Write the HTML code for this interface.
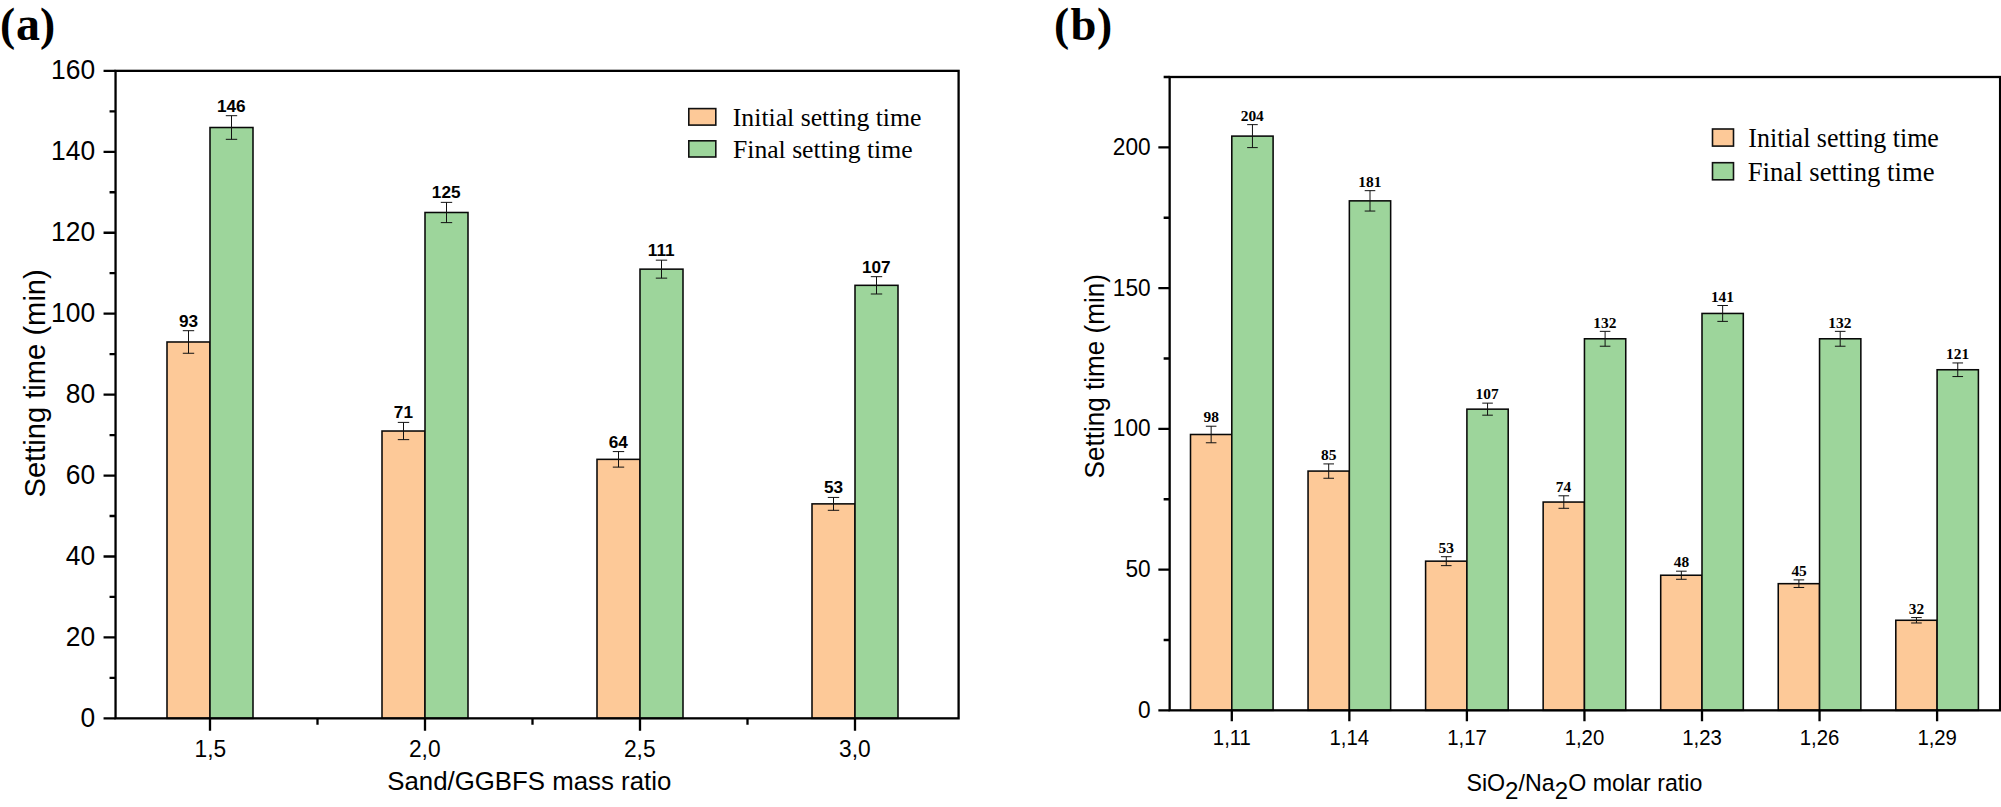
<!DOCTYPE html>
<html><head><meta charset="utf-8"><title>Setting time charts</title>
<style>html,body{margin:0;padding:0;background:#fff}svg{display:block}text{fill:#000}</style></head>
<body><svg width="2001" height="807" viewBox="0 0 2001 807">
<rect width="2001" height="807" fill="#fff"/>
<rect x="167.00" y="341.99" width="43.00" height="376.36" fill="#fdc998" stroke="#080808" stroke-width="1.55"/>
<rect x="210.00" y="127.51" width="43.00" height="590.84" fill="#9dd59b" stroke="#080808" stroke-width="1.55"/>
<rect x="382.00" y="431.02" width="43.00" height="287.33" fill="#fdc998" stroke="#080808" stroke-width="1.55"/>
<rect x="425.00" y="212.49" width="43.00" height="505.86" fill="#9dd59b" stroke="#080808" stroke-width="1.55"/>
<rect x="597.00" y="459.35" width="43.00" height="259.00" fill="#fdc998" stroke="#080808" stroke-width="1.55"/>
<rect x="640.00" y="269.15" width="43.00" height="449.20" fill="#9dd59b" stroke="#080808" stroke-width="1.55"/>
<rect x="812.00" y="503.87" width="43.00" height="214.48" fill="#fdc998" stroke="#080808" stroke-width="1.55"/>
<rect x="855.00" y="285.33" width="43.00" height="433.02" fill="#9dd59b" stroke="#080808" stroke-width="1.55"/>
<path d="M188.50 330.70V353.28M182.80 330.70H194.20M182.80 353.28H194.20" stroke="#111" stroke-width="1" fill="none"/>
<path d="M231.50 115.69V139.32M225.80 115.69H237.20M225.80 139.32H237.20" stroke="#111" stroke-width="1" fill="none"/>
<path d="M403.50 422.40V439.64M397.80 422.40H409.20M397.80 439.64H409.20" stroke="#111" stroke-width="1" fill="none"/>
<path d="M446.50 202.37V222.61M440.80 202.37H452.20M440.80 222.61H452.20" stroke="#111" stroke-width="1" fill="none"/>
<path d="M618.50 451.58V467.12M612.80 451.58H624.20M612.80 467.12H624.20" stroke="#111" stroke-width="1" fill="none"/>
<path d="M661.50 260.16V278.13M655.80 260.16H667.20M655.80 278.13H667.20" stroke="#111" stroke-width="1" fill="none"/>
<path d="M833.50 497.43V510.30M827.80 497.43H839.20M827.80 510.30H839.20" stroke="#111" stroke-width="1" fill="none"/>
<path d="M876.50 276.67V293.99M870.80 276.67H882.20M870.80 293.99H882.20" stroke="#111" stroke-width="1" fill="none"/>
<rect x="115.55" y="70.85" width="843.05" height="647.50" fill="none" stroke="#000" stroke-width="2.30"/>
<path d="M115.55 718.35H103.55M115.55 637.41H103.55M115.55 556.48H103.55M115.55 475.54H103.55M115.55 394.60H103.55M115.55 313.66H103.55M115.55 232.73H103.55M115.55 151.79H103.55M115.55 70.85H103.55M115.55 677.88H109.55M115.55 596.94H109.55M115.55 516.01H109.55M115.55 435.07H109.55M115.55 354.13H109.55M115.55 273.19H109.55M115.55 192.26H109.55M115.55 111.32H109.55M210.00 718.35V730.65M425.00 718.35V730.65M640.00 718.35V730.65M855.00 718.35V730.65M317.50 718.35V724.85M532.50 718.35V724.85M747.50 718.35V724.85" stroke="#000" stroke-width="2.30" fill="none"/>
<text transform="translate(80.52,726.55) scale(0.9680,1)" font-family='"Liberation Sans", Arial, sans-serif' font-size="27.30">0</text>
<text transform="translate(65.86,645.61) scale(0.9680,1)" font-family='"Liberation Sans", Arial, sans-serif' font-size="27.30">20</text>
<text transform="translate(65.86,564.68) scale(0.9680,1)" font-family='"Liberation Sans", Arial, sans-serif' font-size="27.30">40</text>
<text transform="translate(65.86,483.74) scale(0.9680,1)" font-family='"Liberation Sans", Arial, sans-serif' font-size="27.30">60</text>
<text transform="translate(65.86,402.80) scale(0.9680,1)" font-family='"Liberation Sans", Arial, sans-serif' font-size="27.30">80</text>
<text transform="translate(51.12,321.86) scale(0.9680,1)" font-family='"Liberation Sans", Arial, sans-serif' font-size="27.30">100</text>
<text transform="translate(51.12,240.93) scale(0.9680,1)" font-family='"Liberation Sans", Arial, sans-serif' font-size="27.30">120</text>
<text transform="translate(51.12,159.99) scale(0.9680,1)" font-family='"Liberation Sans", Arial, sans-serif' font-size="27.30">140</text>
<text transform="translate(51.12,79.05) scale(0.9680,1)" font-family='"Liberation Sans", Arial, sans-serif' font-size="27.30">160</text>
<text transform="translate(194.48,757.05) scale(0.9900,1)" font-family='"Liberation Sans", Arial, sans-serif' font-size="23.00">1,5</text>
<text transform="translate(408.93,757.05) scale(0.9900,1)" font-family='"Liberation Sans", Arial, sans-serif' font-size="23.00">2,0</text>
<text transform="translate(623.96,757.05) scale(0.9900,1)" font-family='"Liberation Sans", Arial, sans-serif' font-size="23.00">2,5</text>
<text transform="translate(839.07,757.05) scale(0.9900,1)" font-family='"Liberation Sans", Arial, sans-serif' font-size="23.00">3,0</text>
<text transform="translate(178.95,326.70) scale(1.0000,1)" font-family='"Liberation Sans", Arial, sans-serif' font-size="17.20" font-weight="bold">93</text>
<text transform="translate(216.92,111.69) scale(1.0000,1)" font-family='"Liberation Sans", Arial, sans-serif' font-size="17.20" font-weight="bold">146</text>
<text transform="translate(393.82,418.40) scale(1.0000,1)" font-family='"Liberation Sans", Arial, sans-serif' font-size="17.20" font-weight="bold">71</text>
<text transform="translate(431.86,198.37) scale(1.0000,1)" font-family='"Liberation Sans", Arial, sans-serif' font-size="17.20" font-weight="bold">125</text>
<text transform="translate(608.67,447.58) scale(1.0000,1)" font-family='"Liberation Sans", Arial, sans-serif' font-size="17.20" font-weight="bold">64</text>
<text transform="translate(647.80,256.16) scale(1.0000,1)" font-family='"Liberation Sans", Arial, sans-serif' font-size="17.20" font-weight="bold">111</text>
<text transform="translate(824.00,493.43) scale(1.0000,1)" font-family='"Liberation Sans", Arial, sans-serif' font-size="17.20" font-weight="bold">53</text>
<text transform="translate(861.99,272.67) scale(1.0000,1)" font-family='"Liberation Sans", Arial, sans-serif' font-size="17.20" font-weight="bold">107</text>
<text transform="translate(387.24,790.30) scale(1.0126,1)" font-family='"Liberation Sans", Arial, sans-serif' font-size="25.50">Sand/GGBFS mass ratio</text>
<text transform="translate(45.05,497.51) rotate(-90) scale(0.9715,1)" font-family='"Liberation Sans", Arial, sans-serif' font-size="30.00">Setting time (min)</text>
<text y="39.70" font-family='"Liberation Serif", "Times New Roman", serif' font-weight="bold" font-size="48"><tspan x="0.10" font-size="45.6">(</tspan><tspan x="16.10" font-size="48.0">a</tspan><tspan x="39.90" font-size="45.6">)</tspan></text>
<rect x="688.8" y="108.6" width="27.0" height="16.5" fill="#fdc998" stroke="#111" stroke-width="1.6"/>
<rect x="688.8" y="140.8" width="27.0" height="16.2" fill="#9dd59b" stroke="#111" stroke-width="1.6"/>
<text transform="translate(732.80,125.50) scale(1.0299,1)" font-family='"Liberation Serif", "Times New Roman", serif' font-size="25.00">Initial setting time</text>
<text transform="translate(732.99,157.50) scale(1.0263,1)" font-family='"Liberation Serif", "Times New Roman", serif' font-size="25.00">Final setting time</text>
<rect x="1190.50" y="434.49" width="41.30" height="275.86" fill="#fdc998" stroke="#080808" stroke-width="1.55"/>
<rect x="1231.80" y="136.11" width="41.30" height="574.24" fill="#9dd59b" stroke="#080808" stroke-width="1.55"/>
<rect x="1308.05" y="471.08" width="41.30" height="239.27" fill="#fdc998" stroke="#080808" stroke-width="1.55"/>
<rect x="1349.35" y="200.86" width="41.30" height="509.49" fill="#9dd59b" stroke="#080808" stroke-width="1.55"/>
<rect x="1425.60" y="561.16" width="41.30" height="149.19" fill="#fdc998" stroke="#080808" stroke-width="1.55"/>
<rect x="1466.90" y="409.16" width="41.30" height="301.19" fill="#9dd59b" stroke="#080808" stroke-width="1.55"/>
<rect x="1543.15" y="502.05" width="41.30" height="208.30" fill="#fdc998" stroke="#080808" stroke-width="1.55"/>
<rect x="1584.45" y="338.78" width="41.30" height="371.57" fill="#9dd59b" stroke="#080808" stroke-width="1.55"/>
<rect x="1660.70" y="575.24" width="41.30" height="135.11" fill="#fdc998" stroke="#080808" stroke-width="1.55"/>
<rect x="1702.00" y="313.45" width="41.30" height="396.90" fill="#9dd59b" stroke="#080808" stroke-width="1.55"/>
<rect x="1778.25" y="583.68" width="41.30" height="126.67" fill="#fdc998" stroke="#080808" stroke-width="1.55"/>
<rect x="1819.55" y="338.78" width="41.30" height="371.57" fill="#9dd59b" stroke="#080808" stroke-width="1.55"/>
<rect x="1895.80" y="620.27" width="41.30" height="90.08" fill="#fdc998" stroke="#080808" stroke-width="1.55"/>
<rect x="1937.10" y="369.75" width="41.30" height="340.60" fill="#9dd59b" stroke="#080808" stroke-width="1.55"/>
<path d="M1211.15 426.22V442.77M1205.85 426.22H1216.45M1205.85 442.77H1216.45" stroke="#111" stroke-width="1" fill="none"/>
<path d="M1252.45 124.63V147.60M1247.15 124.63H1257.75M1247.15 147.60H1257.75" stroke="#111" stroke-width="1" fill="none"/>
<path d="M1328.70 463.91V478.26M1323.40 463.91H1334.00M1323.40 478.26H1334.00" stroke="#111" stroke-width="1" fill="none"/>
<path d="M1370.00 190.67V211.05M1364.70 190.67H1375.30M1364.70 211.05H1375.30" stroke="#111" stroke-width="1" fill="none"/>
<path d="M1446.25 556.69V565.64M1440.95 556.69H1451.55M1440.95 565.64H1451.55" stroke="#111" stroke-width="1" fill="none"/>
<path d="M1487.55 403.13V415.18M1482.25 403.13H1492.85M1482.25 415.18H1492.85" stroke="#111" stroke-width="1" fill="none"/>
<path d="M1563.80 495.80V508.30M1558.50 495.80H1569.10M1558.50 508.30H1569.10" stroke="#111" stroke-width="1" fill="none"/>
<path d="M1605.10 331.35V346.22M1599.80 331.35H1610.40M1599.80 346.22H1610.40" stroke="#111" stroke-width="1" fill="none"/>
<path d="M1681.35 571.18V579.29M1676.05 571.18H1686.65M1676.05 579.29H1686.65" stroke="#111" stroke-width="1" fill="none"/>
<path d="M1722.65 305.51V321.39M1717.35 305.51H1727.95M1717.35 321.39H1727.95" stroke="#111" stroke-width="1" fill="none"/>
<path d="M1798.90 579.88V587.48M1793.60 579.88H1804.20M1793.60 587.48H1804.20" stroke="#111" stroke-width="1" fill="none"/>
<path d="M1840.20 331.35V346.22M1834.90 331.35H1845.50M1834.90 346.22H1845.50" stroke="#111" stroke-width="1" fill="none"/>
<path d="M1916.45 617.57V622.98M1911.15 617.57H1921.75M1911.15 622.98H1921.75" stroke="#111" stroke-width="1" fill="none"/>
<path d="M1957.75 362.94V376.56M1952.45 362.94H1963.05M1952.45 376.56H1963.05" stroke="#111" stroke-width="1" fill="none"/>
<rect x="1169.65" y="77.00" width="830.45" height="633.35" fill="none" stroke="#000" stroke-width="2.30"/>
<path d="M1169.65 710.35H1158.35M1169.65 569.61H1158.35M1169.65 428.86H1158.35M1169.65 288.12H1158.35M1169.65 147.37H1158.35M1169.65 639.98H1163.65M1169.65 499.23H1163.65M1169.65 358.49H1163.65M1169.65 217.74H1163.65M1169.65 77.00H1163.65M1231.80 710.35V721.15M1349.35 710.35V721.15M1466.90 710.35V721.15M1584.45 710.35V721.15M1702.00 710.35V721.15M1819.55 710.35V721.15M1937.10 710.35V721.15" stroke="#000" stroke-width="2.30" fill="none"/>
<text transform="translate(1138.06,718.35) scale(0.9150,1)" font-family='"Liberation Sans", Arial, sans-serif' font-size="24.80">0</text>
<text transform="translate(1125.46,577.11) scale(0.9150,1)" font-family='"Liberation Sans", Arial, sans-serif' font-size="24.80">50</text>
<text transform="translate(1112.81,435.86) scale(0.9150,1)" font-family='"Liberation Sans", Arial, sans-serif' font-size="24.80">100</text>
<text transform="translate(1112.81,295.77) scale(0.9150,1)" font-family='"Liberation Sans", Arial, sans-serif' font-size="24.80">150</text>
<text transform="translate(1112.81,155.02) scale(0.9150,1)" font-family='"Liberation Sans", Arial, sans-serif' font-size="24.80">200</text>
<text transform="translate(1212.87,744.70) scale(0.9520,1)" font-family='"Liberation Sans", Arial, sans-serif' font-size="21.35">1,11</text>
<text transform="translate(1329.45,744.70) scale(0.9520,1)" font-family='"Liberation Sans", Arial, sans-serif' font-size="21.35">1,14</text>
<text transform="translate(1447.23,744.70) scale(0.9520,1)" font-family='"Liberation Sans", Arial, sans-serif' font-size="21.35">1,17</text>
<text transform="translate(1564.65,744.70) scale(0.9520,1)" font-family='"Liberation Sans", Arial, sans-serif' font-size="21.35">1,20</text>
<text transform="translate(1682.25,744.70) scale(0.9520,1)" font-family='"Liberation Sans", Arial, sans-serif' font-size="21.35">1,23</text>
<text transform="translate(1799.80,744.70) scale(0.9520,1)" font-family='"Liberation Sans", Arial, sans-serif' font-size="21.35">1,26</text>
<text transform="translate(1917.38,744.70) scale(0.9520,1)" font-family='"Liberation Sans", Arial, sans-serif' font-size="21.35">1,29</text>
<text transform="translate(1203.49,422.37) scale(1.0000,1)" font-family='"Liberation Serif", "Times New Roman", serif' font-size="15.40" font-weight="bold">98</text>
<text transform="translate(1240.71,120.78) scale(1.0000,1)" font-family='"Liberation Serif", "Times New Roman", serif' font-size="15.40" font-weight="bold">204</text>
<text transform="translate(1321.04,460.06) scale(1.0000,1)" font-family='"Liberation Serif", "Times New Roman", serif' font-size="15.40" font-weight="bold">85</text>
<text transform="translate(1358.24,186.82) scale(1.0000,1)" font-family='"Liberation Serif", "Times New Roman", serif' font-size="15.40" font-weight="bold">181</text>
<text transform="translate(1438.51,552.84) scale(1.0000,1)" font-family='"Liberation Serif", "Times New Roman", serif' font-size="15.40" font-weight="bold">53</text>
<text transform="translate(1475.58,399.28) scale(1.0000,1)" font-family='"Liberation Serif", "Times New Roman", serif' font-size="15.40" font-weight="bold">107</text>
<text transform="translate(1555.79,491.95) scale(1.0000,1)" font-family='"Liberation Serif", "Times New Roman", serif' font-size="15.40" font-weight="bold">74</text>
<text transform="translate(1593.26,327.50) scale(1.0000,1)" font-family='"Liberation Serif", "Times New Roman", serif' font-size="15.40" font-weight="bold">132</text>
<text transform="translate(1673.80,567.33) scale(1.0000,1)" font-family='"Liberation Serif", "Times New Roman", serif' font-size="15.40" font-weight="bold">48</text>
<text transform="translate(1710.89,301.66) scale(1.0000,1)" font-family='"Liberation Serif", "Times New Roman", serif' font-size="15.40" font-weight="bold">141</text>
<text transform="translate(1791.39,576.03) scale(1.0000,1)" font-family='"Liberation Serif", "Times New Roman", serif' font-size="15.40" font-weight="bold">45</text>
<text transform="translate(1828.36,327.50) scale(1.0000,1)" font-family='"Liberation Serif", "Times New Roman", serif' font-size="15.40" font-weight="bold">132</text>
<text transform="translate(1908.79,613.72) scale(1.0000,1)" font-family='"Liberation Serif", "Times New Roman", serif' font-size="15.40" font-weight="bold">32</text>
<text transform="translate(1945.99,359.09) scale(1.0000,1)" font-family='"Liberation Serif", "Times New Roman", serif' font-size="15.40" font-weight="bold">121</text>
<text transform="translate(1103.50,478.47) rotate(-90) scale(0.9563,1)" font-family='"Liberation Sans", Arial, sans-serif' font-size="27.30">Setting time (min)</text>
<text y="39.90" font-family='"Liberation Serif", "Times New Roman", serif' font-weight="bold" font-size="48"><tspan x="1054.05" font-size="45.6">(</tspan><tspan x="1070.60" font-size="46.6">b</tspan><tspan x="1097.10" font-size="45.6">)</tspan></text>
<rect x="1712.5" y="129.0" width="21.0" height="17.1" fill="#fdc998" stroke="#111" stroke-width="1.6"/>
<rect x="1712.5" y="162.7" width="21.0" height="17.1" fill="#9dd59b" stroke="#111" stroke-width="1.6"/>
<text transform="translate(1748.29,146.80) scale(0.9890,1)" font-family='"Liberation Serif", "Times New Roman", serif' font-size="26.30">Initial setting time</text>
<text transform="translate(1747.77,180.50) scale(1.0145,1)" font-family='"Liberation Serif", "Times New Roman", serif' font-size="26.30">Final setting time</text>
<text transform="translate(1466.4,791.4) scale(1.006,1)" font-family='"Liberation Sans", Arial, sans-serif' font-size="23.1">SiO<tspan font-size="24" dy="7.7">2</tspan><tspan dy="-7.7">/Na</tspan><tspan font-size="24" dy="7.7">2</tspan><tspan dy="-7.7">O molar ratio</tspan></text>
</svg></body></html>
